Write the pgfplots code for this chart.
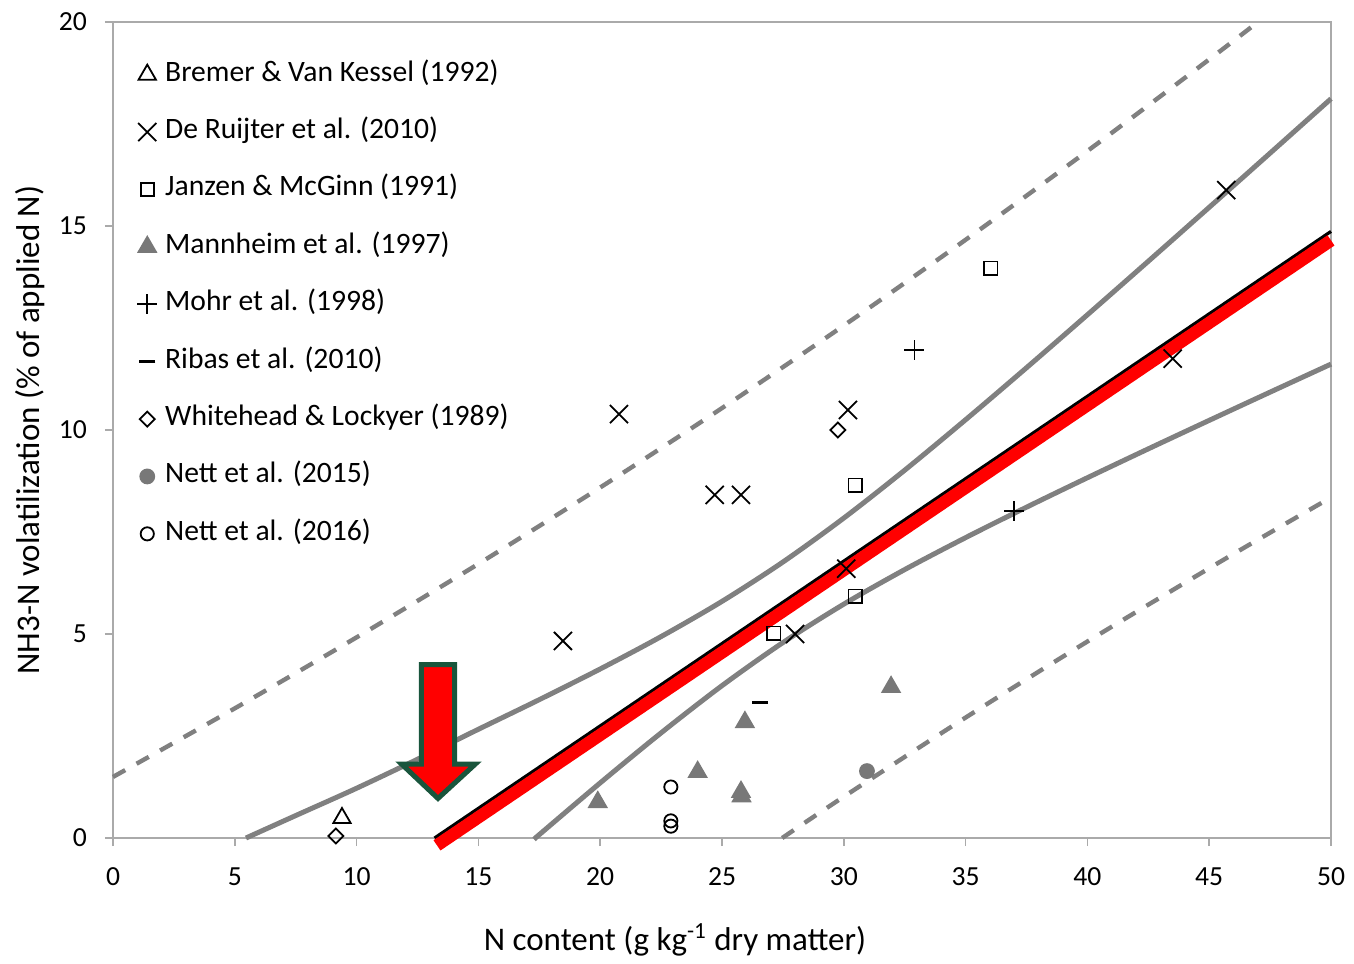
\documentclass[border=0pt]{standalone}
\usepackage{pgfplots}
\pgfplotsset{compat=1.18}
\usepackage{fontspec}
\setmainfont{Carlito}
\definecolor{bandgray}{RGB}{128,128,128}
\definecolor{framegray}{RGB}{170,170,170}
\definecolor{arrowgreen}{RGB}{25,85,60}
\definecolor{markgray}{RGB}{120,120,120}
\pgfplotsset{mk/.style={only marks, line width=0.9pt,
  legend image code/.code={\path (0pt,0pt) (17pt,0pt); \draw[##1] plot coordinates {(8.5pt,0pt)};}}}
\begin{document}
\begin{tikzpicture}
\begin{axis}[name=ax, scale only axis, width=609pt, height=408pt,
  xmin=0, xmax=50, ymin=0, ymax=20,
  xtick={0,5,...,50}, ytick={0,5,...,20},
  axis line style={framegray, line width=0.8pt},
  tick style={framegray, line width=0.8pt}, tick align=outside, major tick length=4pt,
  xtick pos=left, ytick pos=left,
  font=\fontsize{13.8}{16}\selectfont,
  /pgf/number format/assume math mode=true,
  xticklabel style={yshift=-7.5pt},
  yticklabel style={xshift=-5.5pt},
  xlabel={N content (g kg\textsuperscript{-1} dry matter)},
  ylabel={NH3-N volatilization (\% of applied N)},
  label style={font=\fontsize{16.5}{19}\selectfont},
  xlabel style={at={(axis description cs:0.4614,-0.125)}, anchor=center},
  ylabel style={at={(axis description cs:-0.068,0.5)}, anchor=center},
  clip=false,
  legend cell align=left,
  legend style={at={(axis description cs:0.0131,0.9525)}, anchor=north west,
    draw=none, fill=none, inner sep=0pt, row sep=15.2pt, column sep=0pt,
    nodes={inner sep=0pt, text height=10pt, text depth=3.5pt},
    font=\fontsize{14.8}{17}\selectfont},
]
% confidence band (solid gray)
\addplot[forget plot, bandgray, line width=2.5pt, smooth] coordinates {
 (5.46,0) (7.5,0.55) (10,1.22) (12.5,1.93) (15,2.665) (17.5,3.391) (20,4.143) (22.5,4.937)
 (25,5.80) (27.5,6.764) (30,7.842) (32.5,9.015) (35,10.252) (37.5,11.526) (40,12.824)
 (42.5,14.136) (45,15.458) (47.5,16.786) (50,18.119)};
\addplot[forget plot, bandgray, line width=2.5pt, smooth] coordinates {
 (17.35,0) (17.5,0.083) (20,1.351) (22.5,2.577) (25,3.734) (27.5,4.79) (30,5.732) (32.5,6.579)
 (35,7.362) (37.5,8.108) (40,8.83) (42.5,9.538) (45,10.236) (47.5,10.928) (50,11.615)};
% prediction band (dashed gray)
\addplot[forget plot, bandgray, line width=2.2pt, dash pattern=on 7pt off 6.5pt, smooth] coordinates {
 (0,1.497) (5,3.178) (10,4.918) (15,6.719) (20,8.591) (25,10.537) (30,12.561) (35,14.662)
 (40,16.838) (45,19.083) (47.0,20)};
\addplot[forget plot, bandgray, line width=2.2pt, dash pattern=on 7pt off 6.5pt, smooth] coordinates {
 (27.47,0) (30,1.013) (35,2.952) (40,4.816) (45,6.611) (47.5,7.485) (50,8.347)};
% data
\addplot[mk, mark=triangle, mark size=5pt, black] coordinates {(9.4,0.49)};
\addlegendentry{Bremer \& Van Kessel (1992)}
\addplot[mk, mark=x, mark size=6.4pt, black] coordinates {(18.47,4.83) (20.77,10.39) (24.7,8.41) (25.78,8.41) (30.17,10.49) (28.0,5.0) (30.1,6.6) (43.5,11.75) (45.7,15.88)};
\addlegendentry{De Ruijter et al. (2010)}
\addplot[mk, mark=square, mark size=3.3pt, black] coordinates {(36.04,13.97) (30.46,8.65) (30.46,5.93) (27.13,5.02)};
\addlegendentry{Janzen \& McGinn (1991)}
\addplot[mk, mark=triangle*, mark size=5pt, markgray] coordinates {(19.9,0.88) (24.0,1.62) (25.94,2.84) (25.78,1.13) (25.8,1.02) (31.94,3.70)};
\addlegendentry{Mannheim et al. (1997)}
\addplot[mk, mark=+, mark size=5pt, black] coordinates {(32.9,11.96) (37.0,8.01)};
\addlegendentry{Mohr et al. (1998)}
\addplot[mk, mark=-, mark size=4pt, black, mark options={line width=1.6pt}] coordinates {(26.56,3.33)};
\addlegendentry{Ribas et al. (2010)}
\addplot[mk, mark=square, mark size=2.65pt, black, mark options={rotate=45}] coordinates {(9.15,0.05) (29.76,10.0)};
\addlegendentry{Whitehead \& Lockyer (1989)}
\addplot[mk, mark=*, mark size=3.5pt, markgray] coordinates {(30.95,1.64)};
\addlegendentry{Nett et al. (2015)}
\addplot[mk, mark=o, mark size=3.3pt, black] coordinates {(22.9,1.25) (22.9,0.42) (22.9,0.29)};
\addlegendentry{Nett et al. (2016)}
% regression line + highlight
\addplot[forget plot, black, line width=1.6pt] coordinates {(13.2,0) (50,14.867)};
\addplot[forget plot, red, line width=6.2pt] coordinates {(13.3,-0.18) (50,14.647)};
% arrow
\addplot[forget plot, fill=red, draw=arrowgreen, line width=2.5pt, line join=miter] coordinates {
 (12.66,4.25) (14.02,4.25) (14.02,1.81) (14.87,1.81) (13.34,0.97) (11.85,1.81) (12.66,1.81)} -- cycle;
\end{axis}
\path[use as bounding box] ([xshift=-56.5pt,yshift=-60pt]ax.south west) rectangle ([xshift=11.5pt,yshift=11pt]ax.north east);
\end{tikzpicture}
\end{document}
